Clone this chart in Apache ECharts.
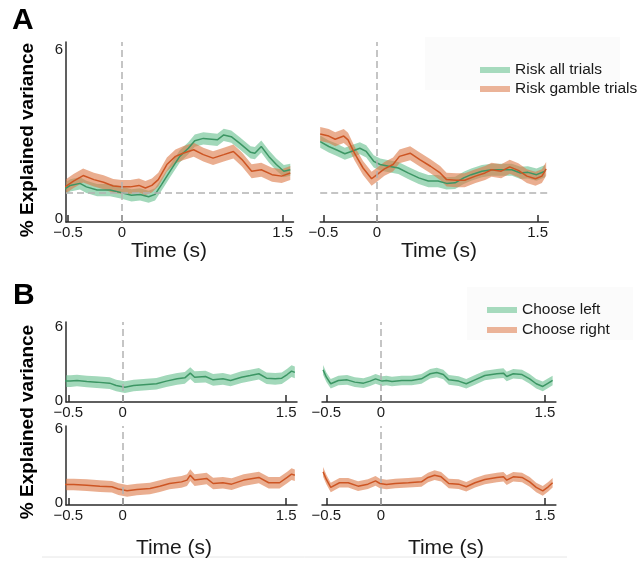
<!DOCTYPE html>
<html>
<head>
<meta charset="utf-8">
<script src="https://cdn.jsdelivr.net/npm/echarts@6/dist/echarts.min.js"></script>
<style>
  html, body { margin: 0; background: #fff; }
  #chart { width: 643px; height: 564px; }
</style>
</head>
<body>
<div id="chart"></div>
<script>
  // tick labels
  var xTicks = [-0.5, 0, 1.5]
  var yTicks = [0, 6]
  var chance = 0.9

  // A, left: risk
  var tAL_all = [-0.54, -0.48, -0.39, -0.33, -0.23, -0.11, 0, 0.09, 0.17, 0.25, 0.31, 0.37, 0.45, 0.54, 0.62, 0.68, 0.76, 0.89, 0.95, 1.02, 1.10, 1.20, 1.24, 1.30, 1.37, 1.44, 1.51, 1.57]
  var vAL_all = [1.02, 1.16, 1.23, 1.11, 1.0, 1.0, 0.91, 0.82, 0.85, 0.77, 0.85, 1.19, 1.65, 2.16, 2.44, 2.70, 2.78, 2.73, 2.90, 2.84, 2.61, 2.30, 2.27, 2.50, 2.16, 1.88, 1.65, 1.70]
  var tAL_gam = [-0.54, -0.45, -0.36, -0.26, -0.17, -0.08, 0, 0.08, 0.16, 0.22, 0.28, 0.34, 0.42, 0.50, 0.57, 0.67, 0.76, 0.85, 0.95, 1.04, 1.12, 1.21, 1.30, 1.40, 1.49, 1.57]
  var vAL_gam = [1.08, 1.31, 1.50, 1.36, 1.27, 1.14, 1.11, 1.11, 1.16, 1.07, 1.16, 1.36, 1.88, 2.16, 2.27, 2.39, 2.22, 2.10, 2.22, 2.33, 2.05, 1.65, 1.70, 1.53, 1.48, 1.59]

  // A, right
  var tAR_all = [-0.53, -0.45, -0.38, -0.30, -0.24, -0.16, -0.10, -0.03, 0.03, 0.11, 0.20, 0.29, 0.39, 0.48, 0.57, 0.65, 0.73, 0.81, 0.88, 0.98, 1.07, 1.16, 1.26, 1.34, 1.41, 1.49, 1.57]
  var vAR_all = [2.67, 2.50, 2.39, 2.25, 2.33, 2.44, 2.33, 1.99, 1.88, 1.82, 1.76, 1.59, 1.42, 1.31, 1.31, 1.23, 1.25, 1.42, 1.53, 1.65, 1.70, 1.70, 1.70, 1.59, 1.61, 1.53, 1.65]
  var tAR_gam = [-0.53, -0.45, -0.39, -0.31, -0.27, -0.21, -0.13, -0.05, 0, 0.07, 0.15, 0.21, 0.31, 0.40, 0.50, 0.59, 0.65, 0.74, 0.82, 0.92, 1.01, 1.07, 1.16, 1.24, 1.32, 1.40, 1.48, 1.54, 1.58]
  var vAR_gam = [2.93, 2.86, 2.75, 2.86, 2.73, 2.27, 1.76, 1.39, 1.53, 1.73, 1.88, 2.16, 2.27, 2.05, 1.82, 1.59, 1.36, 1.34, 1.34, 1.48, 1.59, 1.70, 1.65, 1.80, 1.68, 1.48, 1.39, 1.48, 1.73]

  // B: choice
  var tBL_left = [-0.54, -0.48, -0.42, -0.33, -0.24, -0.12, -0.06, 0.02, 0.10, 0.19, 0.31, 0.40, 0.50, 0.57, 0.62, 0.66, 0.76, 0.83, 0.92, 0.99, 1.09, 1.17, 1.25, 1.32, 1.40, 1.46, 1.51, 1.55, 1.58]
  var vBL_left = [1.53, 1.53, 1.58, 1.50, 1.45, 1.37, 1.18, 1.05, 1.18, 1.24, 1.32, 1.53, 1.71, 1.79, 2.16, 1.84, 1.89, 1.63, 1.71, 1.58, 1.84, 1.97, 2.11, 1.76, 1.71, 1.76, 2.05, 2.32, 2.22]
  var tBL_right = [-0.54, -0.45, -0.33, -0.21, -0.10, -0.04, 0.04, 0.13, 0.25, 0.34, 0.43, 0.54, 0.59, 0.62, 0.66, 0.77, 0.83, 0.92, 1.00, 1.11, 1.25, 1.34, 1.44, 1.51, 1.55, 1.58]
  var vBL_right = [1.47, 1.47, 1.42, 1.34, 1.29, 1.11, 0.97, 1.08, 1.16, 1.34, 1.55, 1.68, 1.82, 2.21, 1.82, 1.95, 1.55, 1.61, 1.50, 1.82, 2.03, 1.61, 1.61, 2.03, 2.29, 2.20]
  var tBR_left = [-0.53, -0.50, -0.46, -0.39, -0.31, -0.24, -0.16, -0.10, -0.05, 0.01, 0.05, 0.10, 0.19, 0.28, 0.37, 0.45, 0.51, 0.57, 0.62, 0.71, 0.78, 0.86, 0.95, 1.06, 1.12, 1.15, 1.21, 1.29, 1.36, 1.42, 1.48, 1.53, 1.57]
  var vBR_left = [2.42, 1.84, 1.32, 1.58, 1.63, 1.45, 1.37, 1.53, 1.71, 1.53, 1.58, 1.50, 1.58, 1.58, 1.71, 2.11, 2.21, 2.05, 1.63, 1.53, 1.32, 1.63, 1.97, 2.11, 2.16, 1.89, 2.11, 2.05, 1.71, 1.32, 1.11, 1.37, 1.58]
  var tBR_right = [-0.53, -0.50, -0.46, -0.38, -0.30, -0.21, -0.12, -0.05, -0.01, 0.05, 0.13, 0.25, 0.37, 0.43, 0.49, 0.55, 0.62, 0.71, 0.78, 0.86, 0.95, 1.06, 1.12, 1.15, 1.21, 1.29, 1.36, 1.42, 1.48, 1.53, 1.57]
  var vBR_right = [2.47, 1.87, 1.24, 1.61, 1.61, 1.34, 1.50, 1.76, 1.55, 1.47, 1.55, 1.61, 1.68, 2.03, 2.21, 2.08, 1.55, 1.50, 1.29, 1.61, 1.87, 2.03, 2.08, 1.82, 2.08, 2.03, 1.68, 1.24, 0.97, 1.29, 1.61]

  // half width of the shaded error band
  var ciA = [0.21, 0.24]
  var ciB = [0.46, 0.38]

  var font = 'Liberation Sans, Arial, sans-serif'
  var green = '#3c9664'
  var greenBand = 'rgba(100,190,140,0.6)'
  var greenKey = '#a6dabd'
  var orange = '#cd5523'
  var orangeBand = 'rgba(220,120,70,0.6)'
  var orangeKey = '#ebb398'
  var axisColor = '#2b2b2b'

  // layout of the six plots: A left, A right, B top left/right, B bottom left/right
  var grids = [
    { left: 66, top: 42, width: 227.5, height: 180 },
    { left: 320.2, top: 42, width: 228.1, height: 180 },
    { left: 66.1, top: 322, width: 230.9, height: 80 },
    { left: 322, top: 322, width: 233.9, height: 80 },
    { left: 66.1, top: 426, width: 230.9, height: 79 },
    { left: 322, top: 426, width: 233.9, height: 79 }
  ]
  var xMins = [-0.52, -0.53, -0.52, -0.54, -0.52, -0.54]
  var yMins = [-0.1, -0.1, -0.12, -0.12, -0.15, -0.15]
  var yMaxs = [6.1, 6.1, 6.2, 6.2, 6.1, 6.1]

  var fmt = function (v) { return v < 0 ? '\u2212' + Math.abs(v) : String(v) }

  var xAxes = grids.map(function (g, i) {
    return {
      type: 'value', gridIndex: i, min: xMins[i], max: 1.6,
      axisLine: { onZero: false, lineStyle: { color: axisColor, width: 1.5 } },
      axisTick: { customValues: xTicks, inside: true, length: 7, lineStyle: { color: axisColor, width: 1.5 } },
      axisLabel: { customValues: xTicks, formatter: fmt, fontSize: 15, color: '#1a1a1a', margin: 3, fontFamily: font },
      splitLine: { show: false }
    }
  })
  var yAxes = grids.map(function (g, i) {
    return {
      type: 'value', gridIndex: i, min: yMins[i], max: yMaxs[i], show: i % 2 === 0,
      axisLine: { show: true, onZero: false, lineStyle: { color: axisColor, width: 1.5 } },
      axisTick: { show: false },
      axisLabel: {
        customValues: yTicks, fontSize: 15, color: '#1a1a1a', margin: 3, fontFamily: font,
        formatter: function (v) { return v > 0 ? '{top|' + v + '}' : String(v) },
        rich: { top: { fontSize: 15, fontFamily: font, color: '#1a1a1a', padding: [i === 0 ? 10 : 4, 0, 0, 0] } }
      },
      splitLine: { show: false }
    }
  })

  var dashed = { color: '#b3b3b3', type: [7, 4], width: 1.5 }
  var series = []

  function addCurve (g, name, time, mean, hw, line, band, marks) {
    series.push({
      type: 'custom', name: name, xAxisIndex: g, yAxisIndex: g, clip: true, silent: true,
      itemStyle: { color: band },
      data: time.map(function (t, i) { return [t, mean[i]] }),
      renderItem: function (params, api) {
        if (params.dataIndex !== 0) return
        var up = time.map(function (t, i) { return api.coord([t, mean[i] + hw]) })
        var lo = time.map(function (t, i) { return api.coord([t, mean[i] - hw]) }).reverse()
        return { type: 'polygon', shape: { points: up.concat(lo) }, style: { fill: band } }
      }
    })
    var s = {
      type: 'line', xAxisIndex: g, yAxisIndex: g, z: 4, silent: true,
      symbol: 'none', showSymbol: false,
      lineStyle: { color: line, width: 1.5 }, itemStyle: { color: line },
      data: time.map(function (t, i) { return [t, mean[i]] })
    }
    if (marks) {
      s.markLine = { silent: true, symbol: ['none', 'none'], label: { show: false }, lineStyle: dashed, data: marks }
    }
    series.push(s)
  }

  addCurve(0, 'Risk all trials', tAL_all, vAL_all, ciA[0], green, greenBand, [{ xAxis: 0 }, { yAxis: chance }])
  addCurve(0, 'Risk gamble trials', tAL_gam, vAL_gam, ciA[1], orange, orangeBand)
  addCurve(1, 'Risk all trials', tAR_all, vAR_all, ciA[0], green, greenBand, [{ xAxis: 0 }, { yAxis: chance }])
  addCurve(1, 'Risk gamble trials', tAR_gam, vAR_gam, ciA[1], orange, orangeBand)
  addCurve(2, 'Choose left', tBL_left, vBL_left, ciB[0], green, greenBand, [{ xAxis: 0 }])
  addCurve(3, 'Choose left', tBR_left, vBR_left, ciB[1], green, greenBand, [{ xAxis: 0 }])
  addCurve(4, 'Choose right', tBL_right, vBL_right, ciB[0], orange, orangeBand, [{ xAxis: 0 }])
  addCurve(5, 'Choose right', tBR_right, vBR_right, ciB[1], orange, orangeBand, [{ xAxis: 0 }])

  var legendText = { fontSize: 15.5, color: '#1a1a1a', fontFamily: font }
  function key (name, color) {
    return { name: name, itemStyle: { color: color, opacity: 1, borderWidth: 0 } }
  }

  var myChart = echarts.init(document.getElementById('chart'))
  myChart.setOption({
    animation: false,
    backgroundColor: '#fff',
    grid: grids,
    xAxis: xAxes,
    yAxis: yAxes,
    legend: [
      {
        orient: 'vertical', left: 475, top: 57, itemWidth: 30, itemHeight: 6, itemGap: 3,
        icon: 'rect', selectedMode: false, textStyle: legendText,
        data: [key('Risk all trials', greenKey), key('Risk gamble trials', orangeKey)]
      },
      {
        orient: 'vertical', left: 482, top: 297, itemWidth: 30, itemHeight: 6, itemGap: 4,
        icon: 'rect', selectedMode: false, textStyle: legendText,
        data: [key('Choose left', greenKey), key('Choose right', orangeKey)]
      }
    ],
    graphic: [
      { type: 'rect', z: -1, shape: { x: 425, y: 37, width: 195, height: 53 }, style: { fill: '#fbfbfb' } },
      { type: 'rect', z: -1, shape: { x: 467, y: 287, width: 166, height: 53 }, style: { fill: '#fbfbfb' } },
      { type: 'line', shape: { x1: 42, y1: 557, x2: 567, y2: 557 }, style: { stroke: '#e6e6e6', lineWidth: 1 } },
      { type: 'text', x: 12, y: 6, style: { text: 'A', font: 'bold 30px ' + font, fill: '#000' } },
      { type: 'text', x: 13, y: 281, style: { text: 'B', font: 'bold 30px ' + font, fill: '#000' } },
      { type: 'text', x: 28, y: 140, rotation: Math.PI / 2, style: { text: '% Explained variance', font: 'bold 19px ' + font, fill: '#000', align: 'center', verticalAlign: 'middle', textAlign: 'center', textVerticalAlign: 'middle' } },
      { type: 'text', x: 28, y: 422, rotation: Math.PI / 2, style: { text: '% Explained variance', font: 'bold 19px ' + font, fill: '#000', align: 'center', verticalAlign: 'middle', textAlign: 'center', textVerticalAlign: 'middle' } },
      { type: 'text', x: 169, y: 251, style: { text: 'Time (s)', font: '21px ' + font, fill: '#1a1a1a', align: 'center', verticalAlign: 'middle', textAlign: 'center', textVerticalAlign: 'middle' } },
      { type: 'text', x: 439, y: 251, style: { text: 'Time (s)', font: '21px ' + font, fill: '#1a1a1a', align: 'center', verticalAlign: 'middle', textAlign: 'center', textVerticalAlign: 'middle' } },
      { type: 'text', x: 174, y: 548, style: { text: 'Time (s)', font: '21px ' + font, fill: '#1a1a1a', align: 'center', verticalAlign: 'middle', textAlign: 'center', textVerticalAlign: 'middle' } },
      { type: 'text', x: 446, y: 548, style: { text: 'Time (s)', font: '21px ' + font, fill: '#1a1a1a', align: 'center', verticalAlign: 'middle', textAlign: 'center', textVerticalAlign: 'middle' } }
    ],
    series: series
  })
</script>
</body>
</html>
